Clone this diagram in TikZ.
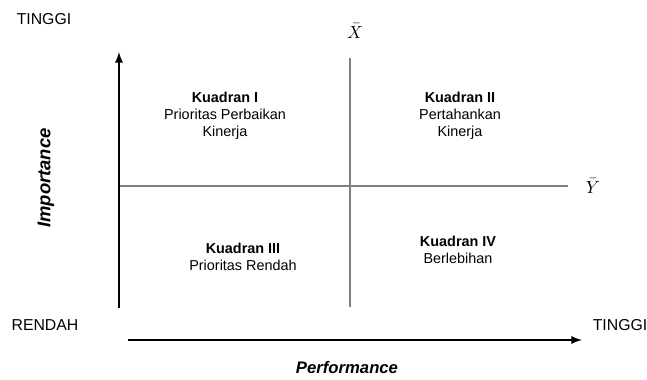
\documentclass[tikz,border=0pt]{standalone}
\usepackage{fontspec}
\setmainfont{Liberation Sans}
\usetikzlibrary{positioning}

\begin{document}
\begin{tikzpicture}[
    quad/.style={align=center, font=\fontsize{8.2}{9.7}\selectfont},
    axlabel/.style={font=\fontsize{9}{11}\selectfont},
    axtitle/.style={font=\fontsize{9.5}{11}\selectfont\bfseries\itshape}
  ]
    \useasboundingbox (0,0) rectangle (12.94,7.58);

    \coordinate (O) at (2.38,1.42);
    \coordinate (T) at (2.38,6.54);
    \coordinate (P1) at (2.56,0.78);
    \coordinate (P2) at (11.64,0.78);
    \coordinate (Xb) at (7.00,1.44);
    \coordinate (Xt) at (7.00,6.42);
    \coordinate (Yl) at (2.38,3.86);
    \coordinate (Yr) at (11.36,3.86);

    % mean lines
    \draw[gray, line width=0.8pt] (Xb) -- (Xt);
    \draw[gray, line width=0.8pt] (Yl) -- (Yr);

    % axes
    \draw[-latex, line width=1.1pt] (O) -- (T);
    \draw[-latex, line width=1.1pt] (P1) -- (P2);

    \node (xbar) at (7.10,6.96) {$\bar{X}$};
    \node (ybar) at (11.86,3.86) {$\bar{Y}$};

    \node[axlabel] (tinggiY) at (0.88,7.20) {TINGGI};
    \node[axlabel] (rendah) at (0.90,1.08) {RENDAH};
    \node[axlabel] (tinggiX) at (12.40,1.08) {TINGGI};

    \node[axtitle] (perf) at (6.94,0.22) {Performance};
    \node[axtitle, font=\fontsize{10.5}{12}\selectfont\bfseries\itshape, rotate=90] (imp) at (0.92,4.02) {Importance};

    \node[quad] (q1) at (4.50,5.26) {\textbf{Kuadran I}\\Prioritas Perbaikan\\Kinerja};
    \node[quad] (q2) at (9.20,5.26) {\textbf{Kuadran II}\\Pertahankan\\Kinerja};
    \node[quad] (q3) at (4.86,2.44) {\textbf{Kuadran III}\\Prioritas Rendah};
    \node[quad] (q4) at (9.16,2.58) {\textbf{Kuadran IV}\\Berlebihan};

\end{tikzpicture}
\end{document}
